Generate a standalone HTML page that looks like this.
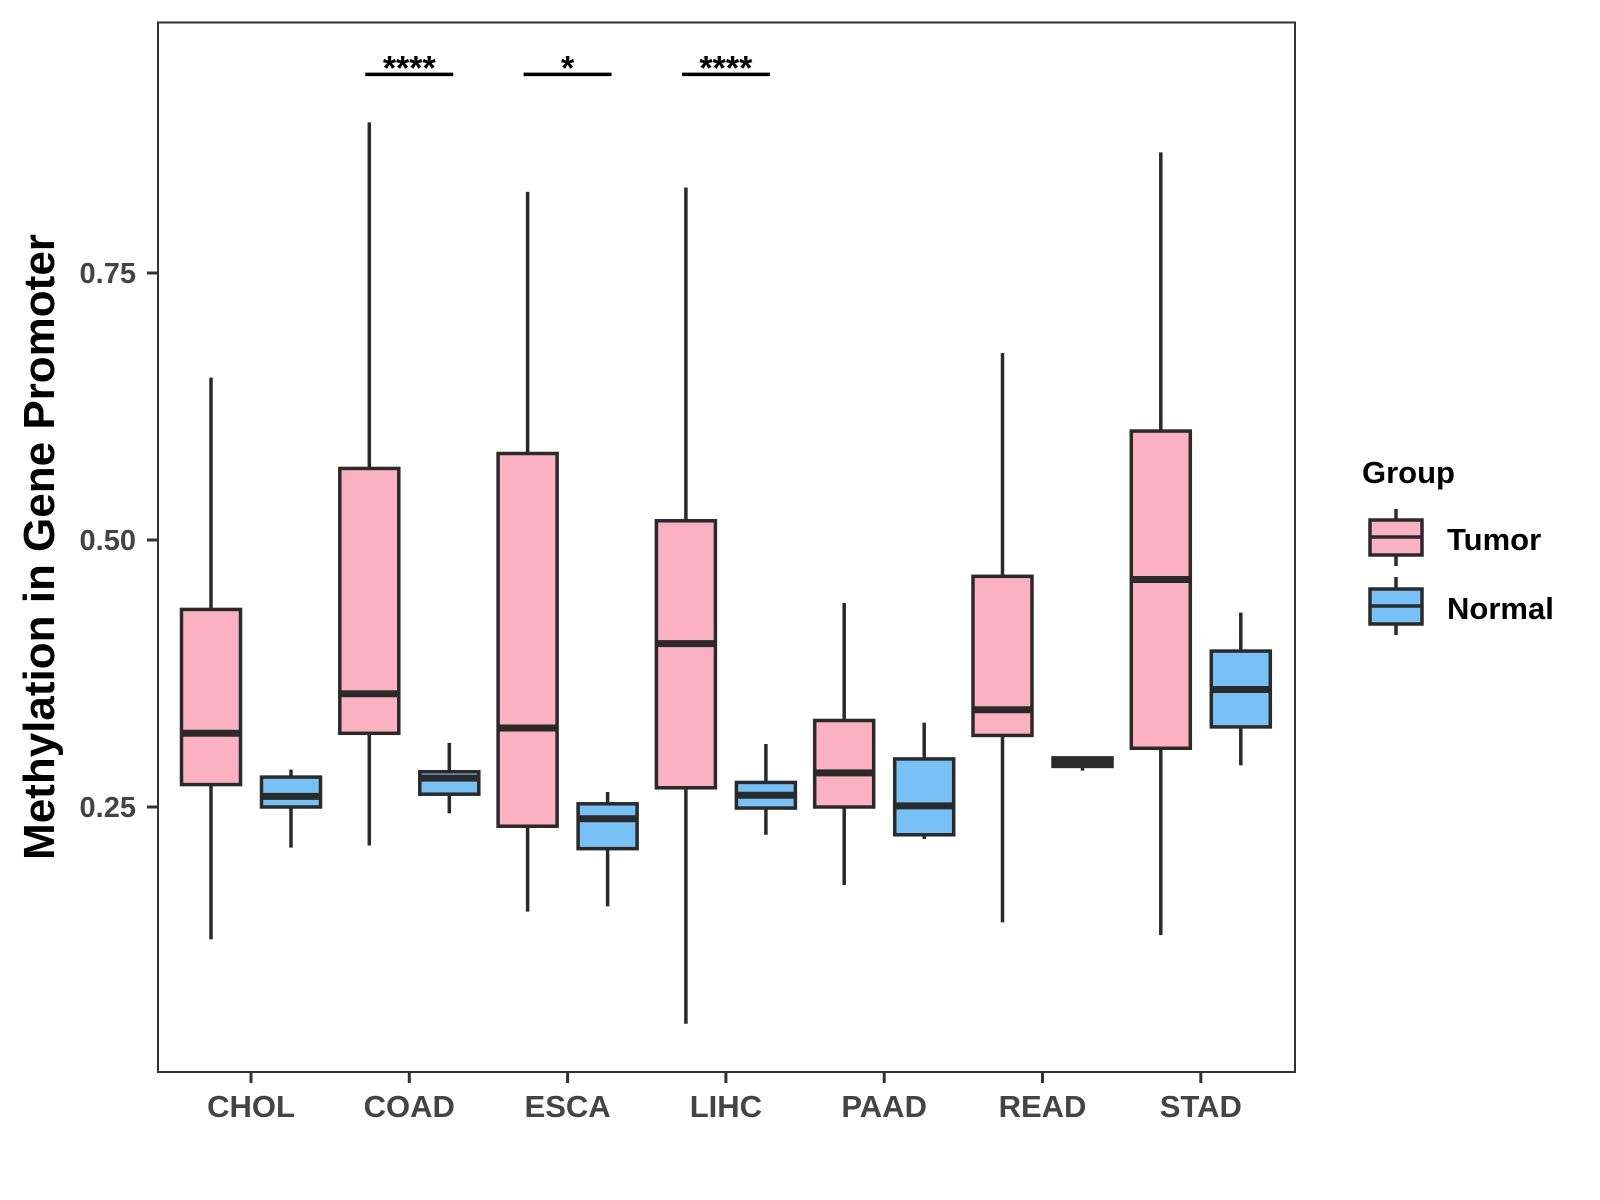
<!DOCTYPE html>
<html><head><meta charset="utf-8"><style>
body{margin:0;background:#fff}
svg{display:block;font-family:"Liberation Sans",sans-serif;font-weight:bold}
</style></head><body>
<svg id="chart" width="1600" height="1200" viewBox="0 0 1600 1200">
<rect x="158" y="22.5" width="1137" height="1049.5" fill="#fff" stroke="#333" stroke-width="2"/>
<g id="yaxis"></g>
<g id="xaxis"></g>
<g id="boxes"></g>
<g id="sig"></g>
<text x="0" y="0" transform="translate(54,547) rotate(-90)" text-anchor="middle" font-size="44" fill="#000">Methylation in Gene Promoter</text>
<g>
<text x="1362" y="483" font-size="31" fill="#000">Group</text>
<g>
<line x1="1396" y1="509" x2="1396" y2="566" stroke="#2a2a2a" stroke-width="3.5"/>
<rect x="1370" y="520" width="52" height="35" fill="#FCB1C3" stroke="#2a2a2a" stroke-width="3.5"/>
<line x1="1370" y1="537" x2="1422" y2="537" stroke="#2a2a2a" stroke-width="3.5"/>
<text x="1447" y="550" font-size="31" fill="#000">Tumor</text></g>
<g>
<line x1="1396" y1="577" x2="1396" y2="635" stroke="#2a2a2a" stroke-width="3.5"/>
<rect x="1370" y="589" width="52" height="35" fill="#78C1F7" stroke="#2a2a2a" stroke-width="3.5"/>
<line x1="1370" y1="606" x2="1422" y2="606" stroke="#2a2a2a" stroke-width="3.5"/>
<text x="1447" y="619" font-size="31" fill="#000">Normal</text></g>
</g>
</svg>
<script>
const categories=["CHOL","COAD","ESCA","LIHC","PAAD","READ","STAD"];
const tumorMin=[0.126,0.214,0.152,0.047,0.177,0.142,0.130];
const tumorQ1=[0.271,0.319,0.232,0.268,0.250,0.317,0.305];
const tumorMed=[0.319,0.356,0.324,0.403,0.282,0.341,0.463];
const tumorQ3=[0.435,0.567,0.581,0.518,0.331,0.466,0.602];
const tumorMax=[0.652,0.891,0.826,0.830,0.441,0.675,0.863];
const normalMin=[0.212,0.244,0.157,0.224,0.220,0.284,0.289];
const normalQ1=[0.250,0.262,0.211,0.249,0.224,0.288,0.325];
const normalMed=[0.260,0.277,0.239,0.261,0.251,0.292,0.360];
const normalQ3=[0.278,0.283,0.253,0.273,0.295,0.296,0.396];
const normalMax=[0.285,0.310,0.264,0.309,0.329,0.297,0.432];
const yTicks=[0.25,0.50,0.75];
const yTickLabels=["0.25","0.50","0.75"];
const sigCats=["COAD","ESCA","LIHC"];
const sigLabels=["****","*","****"];
const sigLevel=0.936;

const NS="http://www.w3.org/2000/svg";
function y(v){return 807-(v-0.25)*1068;}
function x(i){return 251+i*158.3;}
function mk(tag,attrs,parent){const e=document.createElementNS(NS,tag);for(const k in attrs)e.setAttribute(k,attrs[k]);parent.appendChild(e);return e;}
const ya=document.getElementById('yaxis'),xa=document.getElementById('xaxis'),bx=document.getElementById('boxes'),sg=document.getElementById('sig');
yTicks.forEach((t,i)=>{
  const l=mk('line',{x1:147,x2:158,y1:y(t),y2:y(t),stroke:'#333','stroke-width':3},ya);
  
  
  const tx=mk('text',{x:136,y:y(t)+10,'text-anchor':'end','font-size':29,fill:'#444'},ya);
  tx.textContent=yTickLabels[i];
  
  
});
categories.forEach((c,i)=>{
  const l=mk('line',{x1:x(i),x2:x(i),y1:1072,y2:1083,stroke:'#333','stroke-width':3},xa);
  
  
  const tx=mk('text',{x:x(i),y:1117,'text-anchor':'middle','font-size':31,fill:'#444'},xa);
  tx.textContent=c;
  
  
});
function box(cx,mn,q1,md,q3,mx,fill,name){
  const g=mk('g',{},bx);
  
  
  mk('line',{x1:cx,x2:cx,y1:y(mx),y2:y(mn),stroke:'#2a2a2a','stroke-width':3.5},g);
  mk('rect',{x:cx-29.5,y:y(q3),width:59,height:Math.max(y(q1)-y(q3),1),fill:fill,stroke:'#2a2a2a','stroke-width':3.5},g);
  mk('line',{x1:cx-29.5,x2:cx+29.5,y1:y(md),y2:y(md),stroke:'#2a2a2a','stroke-width':7},g);
}
categories.forEach((c,i)=>{
  box(x(i)-40,tumorMin[i],tumorQ1[i],tumorMed[i],tumorQ3[i],tumorMax[i],'#FCB1C3','box-tumor-'+c.toLowerCase());
  box(x(i)+40,normalMin[i],normalQ1[i],normalMed[i],normalQ3[i],normalMax[i],'#78C1F7','box-normal-'+c.toLowerCase());
});
sigCats.forEach((c,k)=>{
  const i=categories.indexOf(c);
  const l=mk('line',{x1:x(i)-44,x2:x(i)+44,y1:y(sigLevel),y2:y(sigLevel),stroke:'#000','stroke-width':3.5},sg);
  
  
  const t=mk('text',{x:x(i),y:y(sigLevel)+5,'text-anchor':'middle','font-size':34,fill:'#000'},sg);
  t.textContent=sigLabels[k];
  
  
});
</script>
</body></html>
